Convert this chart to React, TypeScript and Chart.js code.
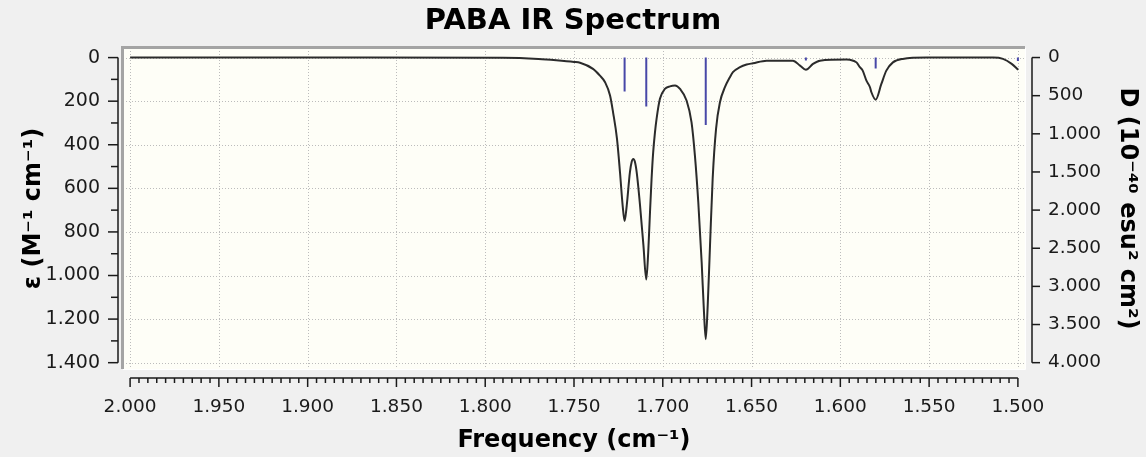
import React, { useEffect, useRef } from "react";
import { Chart, registerables } from "chart.js";

Chart.register(...registerables);

// ---- Axis tick values ----
const freqTicks = [2000, 1950, 1900, 1850, 1800, 1750, 1700, 1650, 1600, 1550, 1500];
const epsTicks = [0, 200, 400, 600, 800, 1000, 1200, 1400];
const dTicks = [0, 500, 1000, 1500, 2000, 2500, 3000, 3500, 4000];

// ---- Broadened spectrum ----
const spectrumFreq = [
  2000, 1900, 1790, 1770, 1760, 1750, 1746.6, 1739.3, 1735.4, 1732.5, 1729.7, 1728.0,
  1725.8, 1724.1, 1722.6, 1721.5, 1720.3, 1718.5, 1717.5, 1716.6, 1715.7, 1714.7,
  1712.8, 1710.9, 1709.3, 1708.2, 1707.2, 1706.3, 1705.4, 1704.4, 1703.5, 1701.6,
  1698.8, 1696.0, 1693.1, 1690.3, 1686.6, 1683.8, 1681.9, 1680.0, 1678.1, 1676.8,
  1675.8, 1674.7, 1673.4, 1671.9, 1670.0, 1667.8, 1665.0, 1662.2, 1660.5, 1656.5,
  1652.8, 1649.2, 1641.5, 1626.7, 1622.7, 1619.4, 1615.4, 1611.5, 1596.5, 1594.6,
  1590.9, 1589.0, 1587.4, 1585.3, 1583.3, 1582.5, 1580.1, 1576.9, 1574.1, 1570.4,
  1564.9, 1551.4, 1513.9, 1508.4, 1503.5, 1499.8,
];
const spectrumEps = [
  0, 0, 1, 6, 12, 20, 24, 52, 83, 113, 174, 251,
  372, 526, 679, 750, 679, 526, 478, 465, 478, 526,
  679, 862, 1018, 893, 710, 555, 434, 343, 281, 189,
  144, 132, 128, 144, 197, 297, 450, 664, 939, 1168,
  1292, 1138, 862, 555, 327, 205, 136, 90, 67, 44,
  32, 26, 14, 14, 37, 56, 29, 14, 9, 10,
  22, 44, 60, 106, 136, 159, 193, 121, 60, 22,
  6, 0, 0, 6, 29, 56,
];

// ---- Stick spectrum (dipole strengths) ----
const stickFreq = [1721.5, 1709.3, 1675.8, 1619.4, 1580.1, 1500];
const stickD = [445, 642, 885, 40, 145, 45];

const FONT = "'DejaVu Sans', Verdana, sans-serif";

const fmt = (v: number | string) =>
  String(Math.round(Number(v))).replace(/\B(?=(\d{3})+(?!\d))/g, ".");

const decor = {
  id: "decor",
  beforeDraw(chart: any) {
    const { ctx, chartArea: a, width, height } = chart;
    ctx.save();
    ctx.fillStyle = "#f0f0f0";
    ctx.fillRect(0, 0, width, height);
    ctx.fillStyle = "#fefef7";
    ctx.fillRect(a.left, a.top, a.right - a.left, a.bottom - a.top);
    ctx.restore();
  },
  beforeDatasetsDraw(chart: any) {
    const { ctx, chartArea: a, scales } = chart;
    const xs = scales.x;
    const ys = scales.y;
    ctx.save();
    ctx.strokeStyle = "#bcbcbc";
    ctx.lineWidth = 1;
    ctx.setLineDash([1, 2]);
    for (const v of freqTicks) {
      const px = Math.round(xs.getPixelForValue(v)) + 0.5;
      ctx.beginPath();
      ctx.moveTo(px, a.top);
      ctx.lineTo(px, a.bottom);
      ctx.stroke();
    }
    for (const v of epsTicks) {
      const py = Math.round(ys.getPixelForValue(v)) + 0.5;
      ctx.beginPath();
      ctx.moveTo(a.left, py);
      ctx.lineTo(a.right, py);
      ctx.stroke();
    }
    ctx.restore();
  },
  afterDraw(chart: any) {
    const { ctx, chartArea: a, scales } = chart;
    const xs = scales.x;
    const ys = scales.y;
    const y2 = scales.y2;
    ctx.save();
    // frame
    ctx.strokeStyle = "#a4a4a4";
    ctx.lineWidth = 3;
    ctx.beginPath();
    ctx.moveTo(a.left - 0.5, a.bottom);
    ctx.lineTo(a.left - 0.5, a.top - 0.5);
    ctx.lineTo(a.right, a.top - 0.5);
    ctx.stroke();
    ctx.strokeStyle = "#ffffff";
    ctx.lineWidth = 1;
    ctx.beginPath();
    ctx.moveTo(a.right + 0.5, a.top);
    ctx.lineTo(a.right + 0.5, a.bottom + 0.5);
    ctx.lineTo(a.left, a.bottom + 0.5);
    ctx.stroke();

    ctx.strokeStyle = "#1a1a1a";
    ctx.lineWidth = 1.5;
    // left axis
    const lx = a.left - 5;
    ctx.beginPath();
    ctx.moveTo(lx, ys.getPixelForValue(epsTicks[0]));
    ctx.lineTo(lx, ys.getPixelForValue(epsTicks[epsTicks.length - 1]));
    ctx.stroke();
    for (let i = 0; i < epsTicks.length; i++) {
      const py = ys.getPixelForValue(epsTicks[i]);
      ctx.beginPath();
      ctx.moveTo(lx, py);
      ctx.lineTo(lx - 10, py);
      ctx.stroke();
      if (i < epsTicks.length - 1) {
        const pm = ys.getPixelForValue((epsTicks[i] + epsTicks[i + 1]) / 2);
        ctx.beginPath();
        ctx.moveTo(lx, pm);
        ctx.lineTo(lx - 7, pm);
        ctx.stroke();
      }
    }
    // right axis
    const rx = a.right + 7;
    ctx.beginPath();
    ctx.moveTo(rx, y2.getPixelForValue(dTicks[0]));
    ctx.lineTo(rx, y2.getPixelForValue(dTicks[dTicks.length - 1]));
    ctx.stroke();
    for (const v of dTicks) {
      const py = y2.getPixelForValue(v);
      ctx.beginPath();
      ctx.moveTo(rx, py);
      ctx.lineTo(rx + 8, py);
      ctx.stroke();
    }
    // bottom axis
    const by = a.bottom + 9;
    ctx.beginPath();
    ctx.moveTo(xs.getPixelForValue(freqTicks[0]), by);
    ctx.lineTo(xs.getPixelForValue(freqTicks[freqTicks.length - 1]), by);
    ctx.stroke();
    for (let i = 0; i < freqTicks.length; i++) {
      const px = xs.getPixelForValue(freqTicks[i]);
      ctx.beginPath();
      ctx.moveTo(px, by);
      ctx.lineTo(px, by + 9);
      ctx.stroke();
      if (i < freqTicks.length - 1) {
        const step = (freqTicks[i + 1] - freqTicks[i]) / 10;
        for (let k = 1; k < 10; k++) {
          const pm = xs.getPixelForValue(freqTicks[i] + step * k);
          ctx.beginPath();
          ctx.moveTo(pm, by);
          ctx.lineTo(pm, by + 5);
          ctx.stroke();
        }
      }
    }
    ctx.restore();
  },
};

export default function App() {
  const ref = useRef<HTMLCanvasElement>(null);
  useEffect(() => {
    const spectrum = spectrumFreq.map((f, i) => ({ x: f, y: spectrumEps[i] }));
    const sticks = stickFreq.flatMap((f, i) => [
      { x: f, y: 0 },
      { x: f, y: stickD[i] },
      { x: f, y: null },
    ]);
    const chart = new Chart(ref.current as HTMLCanvasElement, {
      type: "line",
      data: {
        datasets: [
          {
            data: spectrum as any,
            yAxisID: "y",
            borderColor: "#2b2b2b",
            borderWidth: 2,
            pointRadius: 0,
            cubicInterpolationMode: "monotone",
            fill: false,
          },
          {
            data: sticks as any,
            yAxisID: "y2",
            borderColor: "#4848a8",
            borderWidth: 2,
            pointRadius: 0,
            tension: 0,
            spanGaps: false,
            fill: false,
          },
        ],
      },
      options: {
        responsive: false,
        animation: false,
        devicePixelRatio: 1,
        layout: { padding: 0 },
        plugins: {
          legend: { display: false },
          tooltip: { enabled: false },
          title: {
            display: true,
            text: "PABA IR Spectrum",
            color: "#000",
            font: { family: FONT, size: 29, weight: "bold", lineHeight: 1.2 },
            padding: { top: 4, bottom: 9.2 },
          },
        },
        scales: {
          x: {
            type: "linear",
            position: "bottom",
            reverse: true,
            min: 1496,
            max: 2004,
            afterBuildTicks: (s: any) => {
              s.ticks = freqTicks.map((v) => ({ value: v }));
            },
            afterFit: (s: any) => {
              s.height = 88;
            },
            grid: { display: false, drawTicks: false },
            border: { display: false },
            ticks: {
              autoSkip: false,
              maxRotation: 0,
              minRotation: 0,
              padding: 27,
              color: "#1a1a1a",
              font: { family: FONT, size: 18.5 },
              callback: (v: any) => fmt(v),
            },
            title: {
              display: true,
              text: "Frequency (cm⁻¹)",
              color: "#000",
              font: { family: FONT, size: 24, weight: "bold", lineHeight: 1.2 },
              padding: { top: 0, bottom: 2 },
            },
          },
          y: {
            type: "linear",
            position: "left",
            reverse: true,
            min: -44,
            max: 1429,
            afterBuildTicks: (s: any) => {
              s.ticks = epsTicks.map((v) => ({ value: v }));
            },
            afterFit: (s: any) => {
              s.width = 123;
            },
            grid: { display: false, drawTicks: false },
            border: { display: false },
            ticks: {
              autoSkip: false,
              padding: 23,
              color: "#1a1a1a",
              font: { family: FONT, size: 19 },
              callback: (v: any) => fmt(v),
            },
            title: {
              display: true,
              text: "ε (M⁻¹ cm⁻¹)",
              color: "#000",
              font: { family: FONT, size: 24, weight: "bold", lineHeight: 1.2 },
              padding: { top: 19, bottom: 0 },
            },
          },
          y2: {
            type: "linear",
            position: "right",
            reverse: true,
            min: -125,
            max: 4083,
            afterBuildTicks: (s: any) => {
              s.ticks = dTicks.map((v) => ({ value: v }));
            },
            afterFit: (s: any) => {
              s.width = 121;
            },
            grid: { display: false, drawTicks: false },
            border: { display: false },
            ticks: {
              autoSkip: false,
              padding: 23,
              color: "#1a1a1a",
              font: { family: FONT, size: 18.5 },
              callback: (v: any) => fmt(v),
            },
            title: {
              display: true,
              text: "D (10⁻⁴⁰ esu² cm²)",
              color: "#000",
              font: { family: FONT, size: 24, weight: "bold", lineHeight: 1.2 },
              padding: { top: 4, bottom: 0 },
            },
          },
        },
      } as any,
      plugins: [decor],
    });
    return () => chart.destroy();
  }, []);

  return (
    <div
      style={{
        position: "fixed",
        left: 0,
        top: 0,
        width: 1146,
        height: 457,
        background: "#f0f0f0",
      }}
    >
      <canvas
        ref={ref}
        width={1146}
        height={457}
        style={{ display: "block", width: 1146, height: 457 }}
      />
    </div>
  );
}
